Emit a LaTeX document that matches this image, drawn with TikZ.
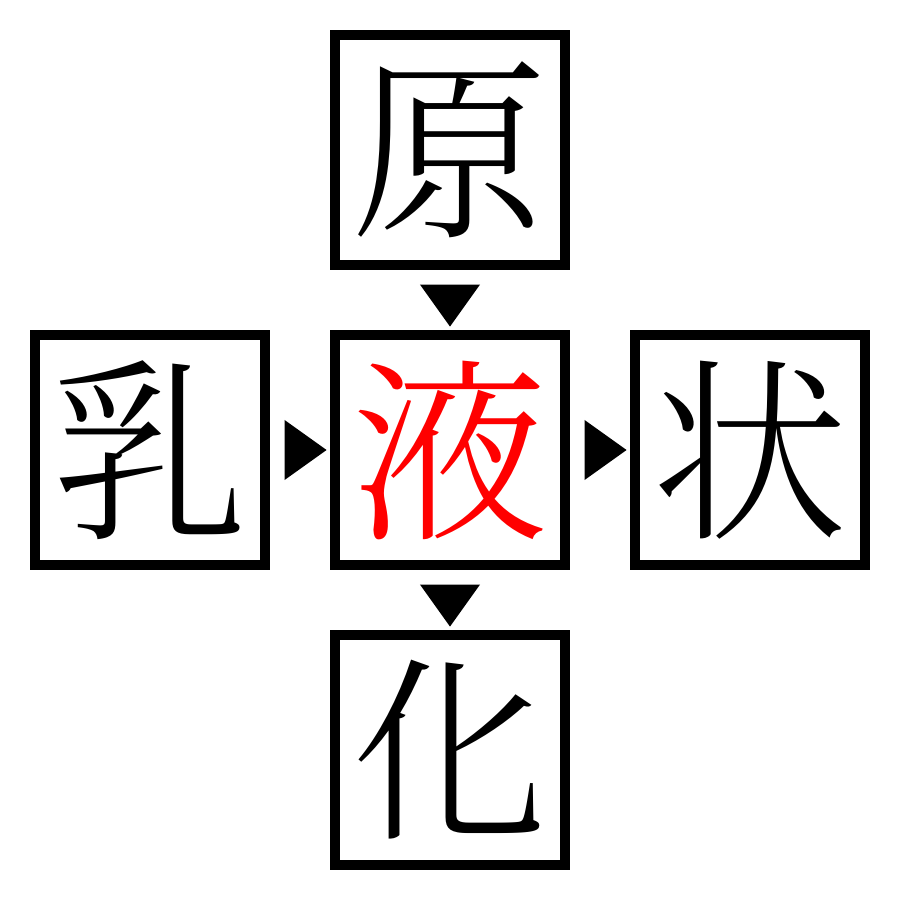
\documentclass[tikz,border=0pt]{standalone}
\usepackage{fontspec}
\IfFontExistsTF{Noto Serif CJK JP Light}{\newfontfamily\cjk{Noto Serif CJK JP Light}}{\newfontfamily\cjk{Noto Serif CJK JP}}
\usetikzlibrary{shapes.geometric}
\begin{document}
\begin{tikzpicture}[x=0.01cm,y=-0.01cm,
  box/.style={draw=black,line width=0.1cm,minimum size=2.3cm,inner sep=0pt,font=\cjk\fontsize{56}{56}\selectfont},
  tri/.style={fill=black,isosceles triangle,isosceles triangle stretches,minimum width=0.6cm,minimum height=0.42cm,inner sep=0pt}]
\useasboundingbox (0,0) rectangle (900,900);
\node[box] (top) at (450,150) {原};
\node[box,text=red] (mid) at (450,450) {液};
\node[box] (left) at (150,450) {乳};
\node[box] (right) at (750,450) {状};
\node[box] (bot) at (450,750) {化};
\path (top) -- node[tri,shape border rotate=-90] (t1) {} (mid);
\path (left) -- node[tri,shape border rotate=0] (t2) {} (mid);
\path (mid) -- node[tri,shape border rotate=0] (t3) {} (right);
\path (mid) -- node[tri,shape border rotate=-90] (t4) {} (bot);
\end{tikzpicture}
\end{document}
